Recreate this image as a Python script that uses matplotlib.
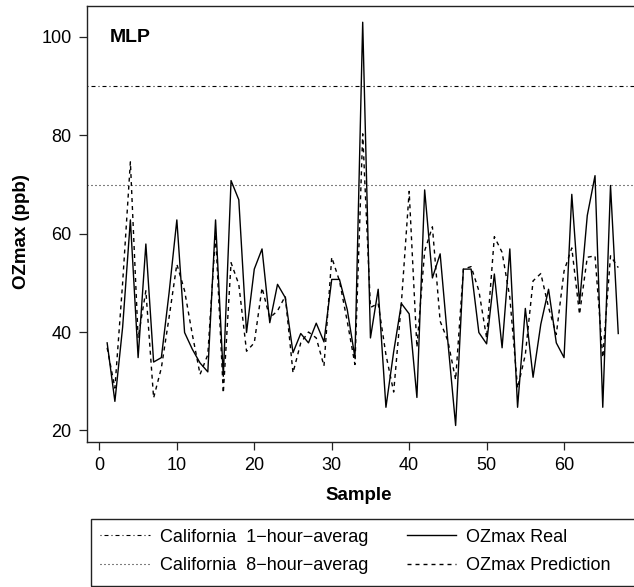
import numpy as np
import matplotlib
matplotlib.use("Agg")
import matplotlib.pyplot as plt
from matplotlib.lines import Line2D
from matplotlib.patches import Rectangle

plt.rcParams['font.family'] = ['Liberation Sans', 'DejaVu Sans']
plt.rcParams['lines.scale_dashes'] = False

# values
sample = np.arange(1, 68)
oz_real = [37.8, 25.9, 41, 62.8, 34.8, 57.9, 33.9, 34.8, 48, 62.8,
           39.9, 36.5, 33.7, 31.9, 62.8, 31, 70.8, 66.9, 39.9, 52.8,
           56.9, 41.9, 49.7, 47, 35.8, 39.7, 37.8, 41.8, 38, 50.7,
           50.7, 44.6, 34.8, 103, 38.8, 48.7, 24.7, 36, 45.8, 43.7,
           26.7, 68.9, 51, 55.9, 38, 21, 52.8, 52.8, 39.9, 37.6,
           51.8, 36.8, 56.9, 24.7, 44.8, 30.8, 41.6, 48.7, 37.8, 34.8,
           68, 45.8, 63.7, 71.8, 24.7, 69.8, 39.7]
oz_pred = [36.8, 28.6, 50, 74.6, 38.8, 48.4, 26.6, 32.7, 43, 53.8,
           48.4, 39.5, 31.4, 35.4, 60, 27.6, 54.1, 49.7, 36.1, 37.8,
           49, 42.9, 44.3, 47.3, 31.7, 37.8, 40, 38.8, 33.1, 55.2,
           50.4, 42.2, 33.4, 80.3, 45, 45.8, 35.4, 27.8, 46, 68.6,
           36.9, 56.5, 61.4, 42.2, 38.2, 30.3, 52.8, 53.3, 48.4, 38.8,
           59.4, 56.2, 47, 28.6, 35.4, 50.4, 51.9, 45, 39.5, 52.4,
           57.1, 43.6, 55.2, 55.5, 34.8, 55.5, 53.1]
limit_1h = 90
limit_8h = 70
xticks = [0, 10, 20, 30, 40, 50, 60]
yticks = [20, 40, 60, 80, 100]
labels = ['California  1\u2212hour\u2212averag', 'California  8\u2212hour\u2212averag',
          'OZmax Real', 'OZmax Prediction']

W, H = 634, 587
fig = plt.figure(figsize=(W / 100, H / 100), dpi=100)
# axes runs past the right edge, as in the cropped original
ax = fig.add_axes([86.7 / W, 1 - 441.7 / H, (638.7 - 86.7) / W, (441.7 - 6) / H])

u = 0.72  # one pixel in points
dotdash = (0, (1 * u, 3 * u, 4 * u, 3 * u))
dotted = (0, (1 * u, 3 * u))
dashed = (0, (4 * u, 4 * u))
lw = 1.0

ax.axhline(limit_1h, color='black', lw=0.8, linestyle=dotdash)
ax.axhline(limit_8h, color='black', lw=0.8, linestyle=dotted)
ax.plot(sample, oz_real, color='black', lw=lw, linestyle='-')
ax.plot(sample, oz_pred, color='black', lw=lw, linestyle=dashed)

ax.set_xlim(-1.64, 69.64)
ax.set_ylim(17.7, 106.3)
ax.set_xticks(xticks)
ax.set_yticks(yticks)
ax.tick_params(direction='out', length=5.8, width=0.9, labelsize=13, pad=5,
               color='#222222')
for s in ax.spines.values():
    s.set_linewidth(1.0)
    s.set_color('#222222')

ax.text(1.4, 99.8, 'MLP', fontsize=14, fontweight='bold', ha='left', va='center')
fig.text(359 / W, 1 - 495 / H, 'Sample', fontsize=13.5, fontweight='bold',
         ha='center', va='center')
fig.text(22 / W, 1 - 232 / H, 'OZmax (ppb)', fontsize=13.5, fontweight='bold',
         ha='center', va='center', rotation=90)

# legend box is cut by the right edge in the original
fig.patches.append(Rectangle((91 / W, 1 - 586 / H), (660 - 91) / W, (586 - 519) / H,
                             transform=fig.transFigure, fill=False,
                             edgecolor='#222222', linewidth=1.0))
handles = [Line2D([], [], color='black', lw=0.8, linestyle=dotdash),
           Line2D([], [], color='black', lw=0.8, linestyle=dotted),
           Line2D([], [], color='black', lw=lw, linestyle='-'),
           Line2D([], [], color='black', lw=lw, linestyle=dashed)]
leg = fig.legend(handles, labels, ncol=2, loc='center left',
                 bbox_to_anchor=(100 / W, 1 - 551.5 / H), borderaxespad=0,
                 borderpad=0, fontsize=13, frameon=False,
                 handlelength=2.75, handletextpad=0.55,
                 labelspacing=0.65, columnspacing=2.15)

fig.savefig('out.png', dpi=100)
